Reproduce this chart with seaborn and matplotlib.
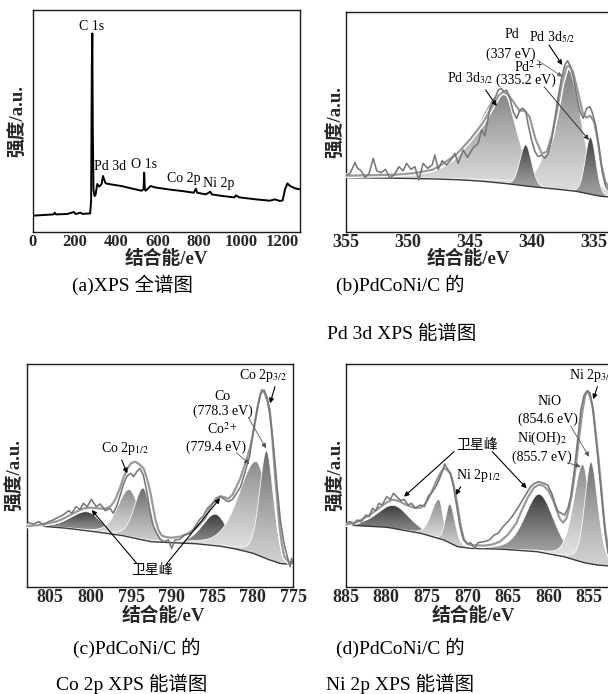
import numpy as np
import pandas as pd
import seaborn as sns
import matplotlib
matplotlib.use("Agg")
import matplotlib.pyplot as plt
import matplotlib.patheffects as pe
from matplotlib.patches import Polygon
from matplotlib.colors import LinearSegmentedColormap

# ---------------- (a) survey ----------------
survey_ev = [0, 52, 100, 106, 112, 165, 198, 206, 230, 238, 276, 280.6, 283.9, 286.3, 288.7, 292,
             296.8, 301.7, 309.8, 319.5, 330.9, 337.4, 343.9, 350.4, 376, 425, 473.6, 522, 532,
             535.3, 538.5, 541.7, 554.7, 566, 587, 652, 717, 773.7, 783.4, 790, 830.5, 853, 859.7,
             911.6, 968, 976.4, 992.7, 1073.8, 1138.6, 1163, 1187, 1200, 1211.6, 1223, 1236, 1260,
             1284]
survey_int = [16, 16.7, 17.3, 19, 17.3, 17.7, 19.7, 17.7, 19, 17.8, 18.3, 31.7, 165, 198.3, 98, 41.7,
              35.7, 36.7, 47.7, 45, 47.7, 55.7, 51.7, 48.3, 47.3, 45.7, 43.3, 41, 42.3,
              59, 42.3, 41, 43.3, 45.7, 44.3, 42.3, 40.7, 39, 43, 39, 37.3, 40, 37.3,
              35.7, 34.3, 36.3, 34.3, 32.3, 31, 32.3, 30.7, 31.3, 42.3, 48.3, 45.7, 43.3,
              42.3]
survey_labels = ["C 1s", "Pd 3d", "O 1s", "Co 2p", "Ni 2p"]
survey_label_ev = [283, 371, 534, 723, 891]
survey_label_int = [205, 65, 66.7, 53.4, 48.4]

# ---------------- (b) Pd 3d ----------------
pd_raw_ev = [354.92, 354.65, 354.25, 354.04, 353.77, 353.45, 353.13, 352.78, 352.51, 352.16, 351.79,
             351.44, 351.04, 350.72, 350.37, 350.10, 349.75, 349.43, 349.11, 348.76, 348.41, 348.04,
             347.82, 347.55, 347.23, 346.88, 346.53, 346.21, 345.94, 345.54, 345.19, 344.73, 344.33,
             344.06, 343.79, 343.39, 342.98, 342.71, 342.50, 342.26, 342.04, 341.78, 341.51, 341.24,
             340.97, 340.76, 340.49, 340.30, 340.03, 339.76, 339.50, 339.23, 338.96, 338.69, 338.42,
             338.15, 337.89, 337.62, 337.35, 337.13, 336.89, 336.68, 336.41, 336.14, 335.87, 335.60,
             335.33, 335.12, 334.85, 334.59, 334.32, 334.05, 333.80, 333.58]
pd_raw_int = [56.7, 58.4, 69, 63.4, 61, 54.4, 57.7, 73.4, 61, 59, 62.4,
              53.4, 57.7, 65, 61, 68.4, 62.4, 65, 51.7, 68.4, 63.4, 66.7,
              76.7, 62.4, 71, 66.7, 71.7, 78.4, 68.4, 81.7, 74.4, 84, 88.4,
              101.7, 96, 123.4, 133.4, 141.7, 143.4, 140, 141.7, 133.4, 120, 113.4,
              121.7, 123.4, 120, 106.7, 91.7, 80, 75, 76.7, 73.4, 78.4, 91.7,
              113.4, 135, 153.4, 166.7, 171, 165, 155, 136.7, 120, 113.4, 123.4,
              125, 118.4, 105, 81.7, 58.4, 45, 41, 39]
pd_fit_ev = [355, 353, 351, 349.5, 348, 347.4, 346.1, 345, 344, 343.2, 342.7, 342.3, 341.9, 341.4,
             341.0, 340.6, 340.2, 339.7, 339.2, 338.8, 338.4, 338.0, 337.6, 337.2, 337.0, 336.7,
             336.3, 335.9, 335.6, 335.3, 335.0, 334.7, 334.4, 334.1, 333.58]
pd_fit_int = [56, 56.5, 57, 58.5, 62, 66, 77, 92, 108, 125, 136, 140, 137, 128,
              121, 121, 115, 92, 78, 80, 96, 120, 148, 165, 166, 160,
              140, 118, 114, 116, 110, 92, 66, 50, 40]
pd_bkg_ev = [355, 351, 348, 346, 344, 342, 340, 338, 336.5, 335.5, 334.5, 333.58]
pd_bkg_int = [54, 53.5, 52.8, 52, 50.5, 48, 45, 42.5, 40.5, 38, 35.5, 34.5]
# fitted components: Pd 3d3/2, Pd 3d5/2, Pd2+ 3d3/2, Pd2+ 3d5/2
pd_center = [342.35, 337.1, 340.5, 335.28]
pd_height = [92, 125, 41, 57]
pd_hw_high = [2.4, 1.35, 0.55, 0.5]
pd_hw_low = [1.3, 1.2, 0.55, 0.5]
pd_eta = [0.5, 0.4, 0.1, 0.1]
pd_shade = [("#848484", "#e2e2e2"), ("#7c7c7c", "#dedede"), ("#3e3e3e", "#a0a0a0"), ("#3e3e3e", "#a0a0a0")]

# ---------------- (c) Co 2p ----------------
co_raw_ev = [807.67, 807.05, 806.4, 805.8, 805.2, 804.6, 804.0, 803.4, 802.7, 802.3, 801.8, 801.3,
             800.9, 800.4, 799.9, 799.3, 798.8, 798.2, 797.6, 797.2, 796.8, 796.4, 795.9, 795.5,
             795.05, 794.7, 794.3, 793.9, 793.5, 793.1, 792.7, 792.3, 791.85, 791.4, 791.0, 790.4,
             790.0, 789.6, 789.0, 788.4, 787.7, 787.1, 786.6, 786.1, 785.6, 785.1, 784.5, 784.0,
             783.5, 783.0, 782.5, 782.0, 781.5, 781.0, 780.4, 779.9, 779.4, 779.0, 778.6, 778.2,
             777.8, 777.4, 777.0, 776.6, 776.15, 775.74, 775.4, 775.2, 775.0]
co_raw_int = [64, 62.7, 65, 61.7, 65, 66.7, 69.4, 71.7, 76, 73.4, 80, 77.4,
              83.4, 80, 87.4, 80, 82.7, 76, 78.4, 73.4, 80, 90, 103.4, 110.7,
              113.4, 110, 115, 118.4, 111.7, 96.7, 76.7, 61.7, 53.4, 47.4, 45, 46.7,
              38.4, 46.7, 47.4, 51.7, 53.4, 60, 66.7, 70.7, 78.4, 81.7, 86.7, 90,
              87.4, 85, 87.4, 93.4, 100, 113.4, 130, 156.7, 180, 193.4, 196.7, 188.4,
              166.7, 136.7, 100, 66.7, 43.4, 30, 20, 28.4, 22.7]
co_fit_ev = [807.8, 806.5, 805.8, 804.5, 803.7, 802.9, 802.1, 801.5, 800.8, 800.0, 799.2, 798.4,
             797.8, 797.4, 796.9, 796.4, 795.9, 795.4, 795.0, 794.5, 794.0, 793.45, 793.0, 792.6,
             792.3, 792.0, 791.6, 791.2, 790.6, 790.0, 789.0, 788.0, 787.0, 786.0, 785.5, 785.0,
             784.5, 784.0, 783.5, 783.0, 782.5, 782.0, 781.5, 781.2, 780.8, 780.3, 779.9, 779.5,
             779.2, 778.9, 778.6, 778.2, 777.9, 777.6, 777.3, 777.0, 776.7, 776.4, 776.1, 775.6,
             775.0]
co_fit_int = [60.7, 61.5, 62.7, 64.5, 66.7, 70, 73.4, 76, 78.4, 79, 78.4, 78,
              79, 81.7, 88, 98, 110, 119, 123.5, 125, 122.5, 118.4, 107, 93.4,
              80, 66.7, 56, 51, 49.5, 49, 50, 53, 58.5, 67, 75, 83,
              88.5, 90.5, 89.5, 88, 92, 100, 109, 116.7, 126, 140, 156, 175,
              188, 196.7, 195, 186, 176.7, 150, 116.7, 88, 60, 42, 30, 25,
              23]
co_bkg_ev = [807.8, 803, 799, 796, 794, 792.5, 790, 787, 784, 782, 780, 778, 776.5, 775]
co_bkg_int = [61.7, 58.5, 54.5, 51, 47.5, 45, 44, 43, 40.5, 37.5, 33.5, 27, 23, 22.7]
# satellite, satellite, Co2+ 2p1/2, Co 2p1/2, Co2+ 2p3/2, Co 2p3/2
co_center = [800.4, 784.6, 795.2, 793.5, 779.5, 778.3]
co_height = [19, 31.5, 47.5, 52, 93, 108]
co_hw_high = [2.4, 1.9, 1.7, 1.3, 2.6, 1.0]
co_hw_low = [1.9, 1.75, 1.45, 1.0, 1.6, 1.0]
co_eta = [0.3, 0.3, 0.3, 0.3, 0.3, 0.3]
co_shade = [("#3c3c3c", "#b8b8b8"), ("#3c3c3c", "#b8b8b8"), ("#8c8c8c", "#e8e8e8"),
            ("#6a6a6a", "#d0d0d0"), ("#8c8c8c", "#e8e8e8"), ("#6a6a6a", "#d0d0d0")]

# ---------------- (d) Ni 2p ----------------
ni_raw_ev = [884.9, 884.4, 884.0, 883.6, 883.1, 882.5, 882.1, 881.7, 881.3, 880.9, 880.5, 879.95,
             879.5, 879.1, 878.7, 878.2, 877.8, 877.3, 876.9, 876.4, 875.8, 875.3, 874.85, 874.3,
             873.9, 873.5, 873.1, 872.8, 872.5, 872.1, 871.7, 871.3, 870.9, 870.5, 870.0, 869.6,
             869.1, 868.7, 867.95, 867.3, 866.7, 866.2, 865.6, 865.0, 864.5, 863.8, 863.2, 862.7,
             862.2, 861.7, 861.2, 860.6, 860.1, 859.6, 859.2, 858.8, 858.4, 858.0, 857.6, 857.25,
             856.85, 856.4, 856.0, 855.6, 855.2, 854.9, 854.55, 854.2, 853.8, 853.4, 853.0, 852.65,
             852.2]
ni_raw_int = [64, 65, 61.7, 66.7, 65, 71.7, 70, 78.4, 76, 83.4, 81.7, 90,
              87.4, 93.4, 90, 86, 87.4, 81.7, 83.4, 78.4, 81.7, 80, 90, 95,
              100, 106.7, 115, 122.7, 118.4, 113.4, 100, 80, 60, 47.4, 42.7, 44,
              38.4, 44, 45, 46.7, 51.7, 53.4, 60, 65, 70, 78.4, 86.7, 93.4,
              100, 103.4, 105, 103.4, 101.7, 93.4, 83.4, 75, 73.4, 71.7, 78.4, 90,
              113.4, 146.7, 176.7, 191.7, 196, 194, 180, 153.4, 120, 86.7, 53.4, 33.4,
              26]
ni_fit_ev = [885, 883.5, 882, 881, 880, 879.3, 878.5, 877.6, 876.6, 875.8, 875.3, 874.8, 874.3,
             873.8, 873.3, 872.9, 872.5, 872.1, 871.7, 871.4, 871.1, 870.8, 870.4, 870, 869.6,
             868, 867, 866, 865, 864, 863.2, 862.5, 861.8, 861.2, 860.6, 860, 859.5, 859,
             858.6, 858.2, 857.8, 857.4, 857.0, 856.6, 856.2, 855.8, 855.5, 855.25, 855.0, 854.7,
             854.46, 854.2, 853.85, 853.5, 853.2, 853.0, 852.65, 852.2]
ni_fit_int = [62, 65, 72, 78, 84, 87, 86, 82, 79, 79, 81.7, 88, 96.7,
              106, 114, 118.4, 117, 113.4, 102, 90, 75, 60, 46.7, 43, 41.7,
              41, 42, 45, 52, 63, 78, 90, 99, 102, 101, 96, 88, 77,
              68, 64, 68, 80, 98, 122, 150, 176, 190, 195, 193, 185,
              175, 155, 130, 100, 72, 57, 38, 28]
ni_bkg_ev = [885, 879.9, 875.75, 872.9, 871.2, 869.6, 865.5, 861.4, 858.1, 855.6, 854.0, 852.2]
ni_bkg_int = [61.7, 59.4, 53.4, 46.7, 40, 38.4, 37.4, 35, 30, 24, 21.7, 20.5]
# satellite, satellite, Ni(OH)2 2p1/2, NiO 2p1/2, Ni(OH)2 2p3/2, NiO 2p3/2
ni_center = [879.0, 861.1, 873.5, 872.15, 855.75, 854.75]
ni_height = [23, 58, 39, 39, 98, 102]
ni_hw_high = [2.4, 2.1, 1.1, 0.6, 1.35, 0.9]
ni_hw_low = [2.2, 2.1, 0.6, 0.75, 1.0, 1.0]
ni_eta = [0.3, 0.3, 0.2, 0.2, 0.3, 0.3]
ni_shade = [("#3a3a3a", "#b2b2b2"), ("#3a3a3a", "#b2b2b2"), ("#8a8a8a", "#e8e8e8"),
            ("#6e6e6e", "#d2d2d2"), ("#8a8a8a", "#e8e8e8"), ("#6e6e6e", "#d2d2d2")]

captions = [("(a)XPS 全谱图",), ("(b)PdCoNi/C 的", "Pd 3d XPS 能谱图"),
            ("(c)PdCoNi/C 的", "Co 2p XPS 能谱图"), ("(d)PdCoNi/C 的", "Ni 2p XPS 能谱图")]

sns.set_theme(style="white")
SERIF = ["Liberation Serif", "Noto Sans CJK SC"]
plt.rcParams["font.family"] = SERIF
plt.rcParams["mathtext.fontset"] = "stix"

W, H = 608, 694
fig = plt.figure(figsize=(W / 100, H / 100), dpi=100)


def box(left, top, bottom, width=266):
    return fig.add_axes([left / W, 1 - bottom / H, width / W, (bottom - top) / H])


def pv(e, c, h, whigh, wlow, eta):
    w = np.where(e >= c, whigh, wlow)
    u = (e - c) / w
    return h * (eta / (1 + u ** 2) + (1 - eta) * np.exp(-np.log(2) * u ** 2))


def style_axes(ax, xlim, ylim, ticks, tsize, xlab_x, xlab_y, ylab_x):
    ax.set_xlim(*xlim)
    ax.set_ylim(*ylim)
    ax.set_yticks([])
    ax.set_xticks(ticks, labels=[str(t) for t in ticks], fontsize=tsize, fontweight="bold")
    ax.tick_params(axis="x", length=0, pad=1.5)
    for s in ax.spines.values():
        s.set_color("#1a1a1a")
        s.set_linewidth(1.0)
    ax.set_xlabel("结合能/eV", fontsize=13.5, fontweight="bold", va="center")
    ax.xaxis.set_label_coords(xlab_x, xlab_y)
    ax.set_ylabel("强度/a.u.", fontsize=13.5, fontweight="bold", va="center")
    ax.yaxis.set_label_coords(ylab_x, 0.5)


def fitted(ax, xlim, raw_e, raw_i, fit_e, fit_i, bkg_e, bkg_i, centers, heights, whs, wls, etas, shades):
    grid = np.linspace(min(xlim), max(xlim), 1500)
    order = np.argsort(bkg_e)
    base = np.interp(grid, np.array(bkg_e)[order], np.array(bkg_i)[order])
    for k in range(len(centers)):
        comp = pv(grid, centers[k], heights[k], whs[k], wls[k], etas[k])
        m = comp > 0.4
        e, b, y = grid[m], base[m], base[m] + comp[m]
        poly = Polygon(np.column_stack([np.r_[e, e[::-1]], np.r_[y, b[::-1]]]),
                       closed=True, facecolor="none", edgecolor="none")
        ax.add_patch(poly)
        cmap = LinearSegmentedColormap.from_list("g", [shades[k][1], shades[k][0]])
        grad = np.linspace(0, 1, 256).reshape(-1, 1) ** 1.2
        im = ax.imshow(grad, extent=[e.min(), e.max(), b.min(), y.max()], origin="lower",
                       aspect="auto", cmap=cmap, zorder=2 + k * 0.1, interpolation="bilinear")
        im.set_clip_path(poly)
        ax.plot(e, y, color="white", lw=0.6, alpha=0.9, zorder=2.05 + k * 0.1)
    sns.lineplot(x=bkg_e, y=bkg_i, ax=ax, color="#3a3a3a", lw=1.0, sort=False,
                 estimator=None, zorder=4)
    sns.lineplot(x=fit_e, y=fit_i, ax=ax, color="#9a9a9a", lw=1.6, sort=False, estimator=None,
                 zorder=5, path_effects=[pe.Stroke(linewidth=3.6, foreground="white"), pe.Normal()])
    sns.lineplot(x=raw_e, y=raw_i, ax=ax, color="#777777", lw=1.15, sort=False,
                 estimator=None, zorder=6)


def arrow(ax, xy_from, xy_to, color="black", lw=0.8):
    ax.annotate("", xy=xy_to, xytext=xy_from,
                arrowprops=dict(arrowstyle="-|>", color=color, lw=lw, mutation_scale=7,
                                shrinkA=0, shrinkB=0), zorder=8)


def label(ax, x, y, s, size=10):
    ax.text(x, y, s, ha="center", va="center", fontsize=size, color="black", zorder=9)


# (a)
ax = box(32.7, 10, 231.7, 267)
sns.lineplot(x=survey_ev, y=survey_int, ax=ax, color="black", lw=1.4, sort=False, estimator=None)
for s, x, y in zip(survey_labels, survey_label_ev, survey_label_int):
    label(ax, x, y, s)
style_axes(ax, (0, 1282), (0, 221.7), [0, 200, 400, 600, 800, 1000, 1200], 12, 0.5, -0.125, -0.055)

# (b)
ax = box(345.7, 11.7, 231.7)
fitted(ax, (355, 333.58), pd_raw_ev, pd_raw_int, pd_fit_ev, pd_fit_int, pd_bkg_ev, pd_bkg_int,
       pd_center, pd_height, pd_hw_high, pd_hw_low, pd_eta, pd_shade)
label(ax, 344.94, 153.4, "Pd 3d$_{\\mathrm{3/2}}$")
label(ax, 341.59, 196.7, "Pd")
label(ax, 341.72, 177.5, "(337 eV)")
label(ax, 338.37, 195, "Pd 3d$_{\\mathrm{5/2}}$")
label(ax, 340.3, 165, "Pd$^{\\mathrm{2+}}$")
label(ax, 340.5, 151.7, "(335.2 eV)")
arrow(ax, (343.73, 141.7), (342.84, 125.7))
arrow(ax, (339.57, 171.7), (337.56, 155), color="#666666", lw=0.6)
arrow(ax, (338.63, 186.7), (337.56, 166.7))
arrow(ax, (339.03, 145), (335.41, 91.7), color="#333333", lw=0.7)
style_axes(ax, (355, 333.58), (0, 220), [355, 350, 345, 340, 335], 13, 0.46, -0.125, -0.036)

# (c)
ax = box(27.3, 364, 586.7)
fitted(ax, (807.8, 775.0), co_raw_ev, co_raw_int, co_fit_ev, co_fit_int, co_bkg_ev, co_bkg_int,
       co_center, co_height, co_hw_high, co_hw_low, co_eta, co_shade)
label(ax, 795.75, 138.4, "Co 2p$_{\\mathrm{1/2}}$")
label(ax, 778.7, 211.7, "Co 2p$_{\\mathrm{3/2}}$")
label(ax, 783.7, 190, "Co")
label(ax, 783.7, 175, "(778.3 eV)")
label(ax, 783.7, 157.4, "Co$^{\\mathrm{2+}}$")
label(ax, 784.53, 139.4, "(779.4 eV)")
label(ax, 792.46, 16.7, "卫星峰")
arrow(ax, (796.16, 126.7), (795.47, 113.4))
arrow(ax, (777.26, 200), (777.87, 183.4))
arrow(ax, (780.55, 169.4), (778.37, 138.4), color="#555555", lw=0.6)
arrow(ax, (782.0, 134), (780.43, 122.7), color="#555555", lw=0.6)
arrow(ax, (794.31, 23.4), (799.86, 76.7))
arrow(ax, (790.41, 25), (784.04, 88.4))
style_axes(ax, (807.8, 775.0), (0, 222.7), [805, 800, 795, 790, 785, 780, 775], 13, 0.51, -0.13, -0.046)

# (d)
ax = box(345.7, 364, 586.7)
fitted(ax, (885, 852.2), ni_raw_ev, ni_raw_int, ni_fit_ev, ni_fit_int, ni_bkg_ev, ni_bkg_int,
       ni_center, ni_height, ni_hw_high, ni_hw_low, ni_eta, ni_shade)
label(ax, 868.77, 141.7, "卫星峰")
label(ax, 868.56, 111.7, "Ni 2p$_{\\mathrm{1/2}}$")
label(ax, 854.7, 211.7, "Ni 2p$_{\\mathrm{3/2}}$")
label(ax, 859.81, 185, "NiO")
label(ax, 860.1, 167.4, "(854.6 eV)")
label(ax, 860.75, 148.4, "Ni(OH)$_{\\mathrm{2}}$")
label(ax, 860.75, 129.4, "(855.7 eV)")
arrow(ax, (871.64, 135), (877.81, 90))
arrow(ax, (866.92, 135), (862.69, 98.4))
arrow(ax, (870.82, 100), (871.44, 91.7))
arrow(ax, (853.97, 200), (854.47, 187.4))
arrow(ax, (857.26, 160.7), (855.0, 130), color="#555555", lw=0.6)
arrow(ax, (857.67, 124), (856.03, 120), color="#555555", lw=0.6)
style_axes(ax, (885, 852.2), (0, 222.7), [885, 880, 875, 870, 865, 860, 855], 13, 0.48, -0.13, -0.036)

# captions
cap_pos = [[(133, 285)], [(400, 285), (402, 334)], [(137, 648), (132, 684)], [(400, 648), (400, 684)]]
for lines, poss in zip(captions, cap_pos):
    for s, (x, y) in zip(lines, poss):
        fig.text(x / W, 1 - y / H, s, ha="center", va="center", fontsize=14, color="black")

fig.savefig("out.png", dpi=100)
